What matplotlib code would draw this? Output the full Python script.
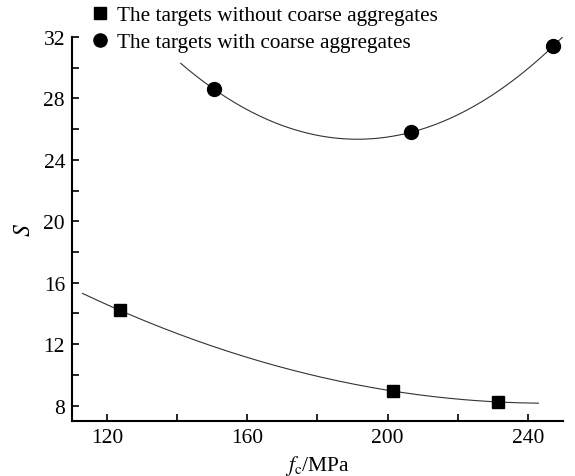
import numpy as np
import matplotlib
matplotlib.use("Agg")
import matplotlib.pyplot as plt
from matplotlib.ticker import MultipleLocator

# -----------------------------
# Data
# -----------------------------
fc_without = [123.7, 201.5, 231.5]
s_without = [14.2, 8.95, 8.24]

fc_with = [150.5, 206.7, 247.2]
s_with = [28.6, 25.8, 31.4]

# ranges over which the fitted curves are drawn
fit_range_without = (113, 243)
fit_range_with = (141, 253)

plt.rcParams["font.family"] = ["Liberation Serif", "DejaVu Serif"]
plt.rcParams["mathtext.fontset"] = "stix"
plt.rcParams["font.size"] = 15


def quad_fit(x, y, xr):
    coef = np.polyfit(x, y, 2)
    xs = np.linspace(xr[0], xr[1], 200)
    return xs, np.polyval(coef, xs)


fig = plt.figure(figsize=(5.75, 4.77), dpi=100)
ax = fig.add_axes([0.1252, 0.1153, 0.8538, 0.805])

xs, ys = quad_fit(fc_without, s_without, fit_range_without)
ax.plot(xs, ys, color="#333333", lw=0.8)
xs, ys = quad_fit(fc_with, s_with, fit_range_with)
ax.plot(xs, ys, color="#333333", lw=0.8)

h1, = ax.plot(fc_without, s_without, "s", color="black", ms=9, ls="none",
              label="The targets without coarse aggregates")
h2, = ax.plot(fc_with, s_with, "o", color="black", ms=10, ls="none",
              label="The targets with coarse aggregates", clip_on=False)

ax.set_xlim(110, 250)
ax.set_ylim(7, 32)
ax.xaxis.set_major_locator(MultipleLocator(40))
ax.xaxis.set_minor_locator(MultipleLocator(20))
ax.yaxis.set_major_locator(MultipleLocator(4))
ax.yaxis.set_minor_locator(MultipleLocator(2))
ax.tick_params(which="both", direction="in", length=5, width=1.2,
               top=False, right=False, labelsize=15.5, pad=5)

for side in ("top", "right"):
    ax.spines[side].set_visible(False)
for side in ("left", "bottom"):
    ax.spines[side].set_linewidth(1.5)

ax.set_xlabel(r"$f_{\mathrm{c}}$/MPa", fontsize=15.5, labelpad=4)
ax.set_ylabel(r"$S$", fontsize=17, labelpad=6)

fig.legend(handles=[h1, h2], loc="upper left", bbox_to_anchor=(0.13, 1.027),
           frameon=False, handlelength=0.6, handletextpad=0.5,
           labelspacing=0.35, fontsize=15.3, markerscale=0.95)

fig.savefig("out.png", dpi=100)
